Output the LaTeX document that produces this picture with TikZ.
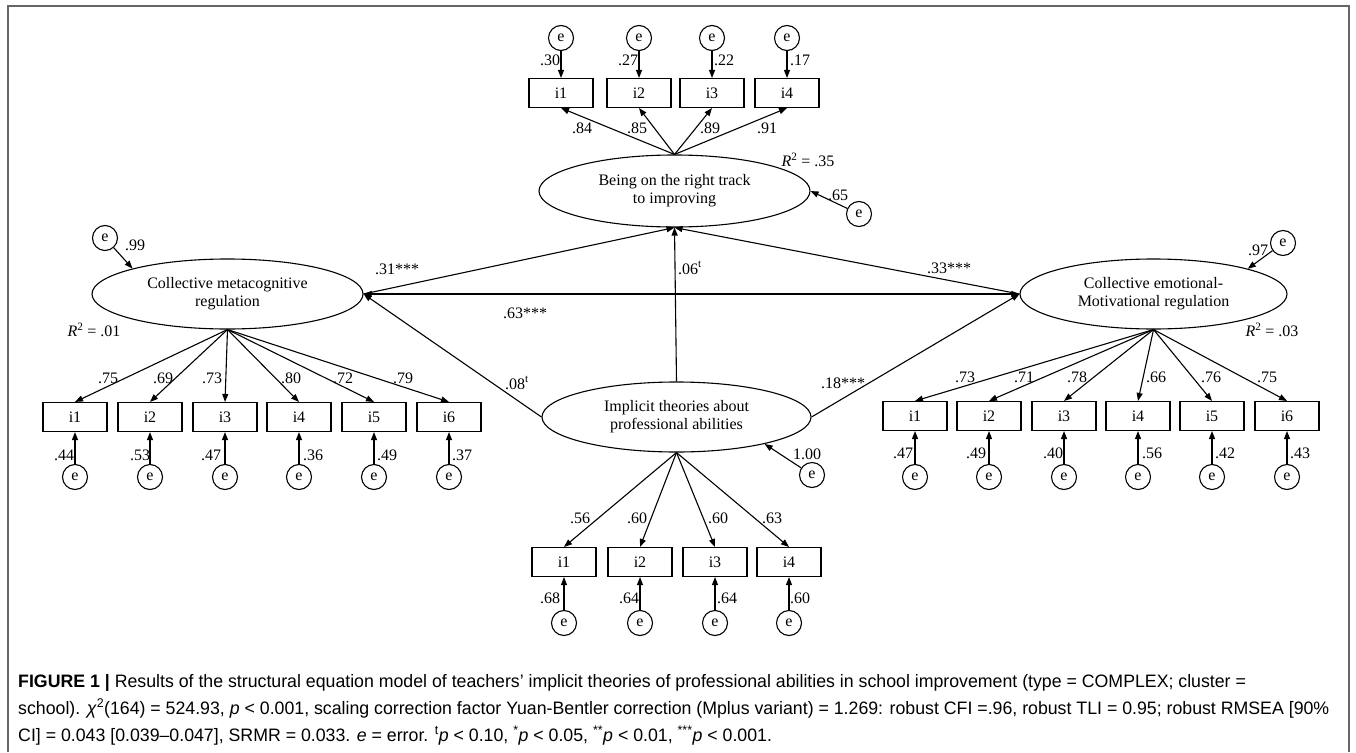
\documentclass[tikz,border=0pt]{standalone}
\usepackage{fontspec}
\setmainfont{Liberation Serif}
\newfontfamily\capfont[FakeStretch=0.985]{Liberation Sans}
\usetikzlibrary{shapes.geometric,arrows.meta}
\begin{document}
\begin{tikzpicture}[x=1pt,y=-1pt,
  every node/.style={font=\fontsize{16}{18}\selectfont},
  lat/.style={ellipse,draw,line width=1.1pt,inner sep=0pt,align=center},
  ind/.style={draw,line width=1.1pt,minimum width=64pt,minimum height=29pt,inner sep=0pt},
  err/.style={circle,draw,line width=1.1pt,minimum size=25pt,inner sep=0pt},
  arr/.style={line width=1.1pt,-{Triangle[length=8pt,width=6pt]}},
  barr/.style={line width=1.1pt,{Triangle[length=8pt,width=6pt]}-{Triangle[length=8pt,width=6pt]}},
  lab/.style={inner sep=0pt},
  capl/.style={anchor=base west,inner sep=0pt,font=\capfont\fontsize{18}{22}\selectfont}
]
\useasboundingbox (0,0) rectangle (1356,752);
\draw[line width=2pt,color=black!60] (8,752) -- (8,6) -- (1349,6) -- (1349,752);

% latent variables
\node[lat,minimum width=271pt,minimum height=72pt] (track) at (674.5,191) {Being on the right track\\to improving};
\node[lat,minimum width=271pt,minimum height=70pt] (meta) at (227.5,294) {Collective metacognitive\\regulation};
\node[lat,minimum width=267pt,minimum height=70pt] (emo) at (1153.5,294) {Collective emotional-\\Motivational regulation};
\node[lat,minimum width=269pt,minimum height=70pt] (impl) at (676.5,417) {Implicit theories about\\professional abilities};

% top indicators
\foreach \n/\x in {1/561,2/639,3/712,4/787}{
  \node[ind] (t\n) at (\x,93) {i\n};
  \node[err] (te\n) at (\x,38) {e};
  \draw[arr] (te\n) -- (t\n);
  \draw[arr] (track.north) -- (t\n.south);
}
% left indicators
\foreach \n/\x in {1/75,2/150,3/225,4/299,5/374,6/449}{
  \node[ind] (l\n) at (\x,417) {i\n};
  \node[err] (le\n) at (\x,477) {e};
  \draw[arr] (le\n) -- (l\n);
  \draw[arr] (meta.south) -- (l\n.north);
}
% right indicators
\foreach \n/\x in {1/915,2/989,3/1064,4/1138,5/1212,6/1287}{
  \node[ind] (r\n) at (\x,416) {i\n};
  \node[err] (re\n) at (\x,477) {e};
  \draw[arr] (re\n) -- (r\n);
  \draw[arr] (emo.south) -- (r\n.north);
}
% bottom indicators
\foreach \n/\x in {1/564,2/640,3/715,4/789}{
  \node[ind] (b\n) at (\x,562) {i\n};
  \node[err] (be\n) at (\x,623) {e};
  \draw[arr] (be\n) -- (b\n);
  \draw[arr] (impl.south) -- (b\n.north);
}

% disturbances
\node[err] (etr) at (859,214) {e};
\draw[arr] (etr) -- (track.east);
\node[err] (emeta) at (105,238) {e};
\draw[arr] (emeta) -- (meta.165);
\node[err] (eemo) at (1283,243) {e};
\draw[arr] (eemo) -- (emo.15);
\node[err] (eimpl) at (812,475) {e};
\draw[arr] (eimpl) -- (impl.-17);

% structural paths
\draw[arr] (meta.east) -- (track.south);
\draw[arr] (emo.west) -- (track.south);
\draw[arr] (impl.north) -- (track.south);
\draw[arr] (impl.west) -- (meta.east);
\draw[arr] (impl.east) -- (emo.west);
\draw[barr] (meta.east) -- (emo.west);

% structural labels
\node[lab] (s31) at (397,269) {.31***};
\node[lab] (s06) at (690,268) {.06\textsuperscript{t}};
\node[lab] (s33) at (949,268) {.33***};
\node[lab] (s63) at (525,313) {.63***};
\node[lab] (s08) at (517,383) {.08\textsuperscript{t}};
\node[lab] (s18) at (843,383) {.18***};

% R2 and disturbance labels
\node[lab] (r35) at (808,160) {\textit{R}\textsuperscript{2} = .35};
\node[lab] (r01) at (94,330) {\textit{R}\textsuperscript{2} = .01};
\node[lab] (r03) at (1272,330) {\textit{R}\textsuperscript{2} = .03};
\node[lab] (d65) at (838,195) {.65};
\node[lab] (d99) at (135,245) {.99};
\node[lab] (d97) at (1258,250) {.97};
\node[lab] (d100) at (807,454) {1.00};

% top labels
\foreach \t/\x in {.30/550,.27/628,.22/724,.17/800}{\node[lab] at (\x,60) {\t};}
\foreach \t/\x in {.84/582,.85/637,.89/710,.91/767}{\node[lab] at (\x,128) {\t};}
% left labels
\foreach \t/\x in {.75/108,.69/163,.73/212,.80/291,.72/343,.79/403}{\node[lab] at (\x,378) {\t};}
\foreach \t/\x in {.44/64,.53/140,.47/211,.36/313,.49/387,.37/462}{\node[lab] at (\x,455) {\t};}
% right labels
\foreach \t/\x in {.73/965,.71/1024,.78/1077,.66/1156,.76/1211,.75/1267}{\node[lab] at (\x,377) {\t};}
\foreach \t/\x in {.47/903,.49/976,.40/1053,.56/1152,.42/1225,.43/1300}{\node[lab] at (\x,453) {\t};}
% bottom labels
\foreach \t/\x in {.56/580,.60/637,.60/718,.63/772}{\node[lab] at (\x,518) {\t};}
\foreach \t/\x in {.68/550,.64/629,.64/727,.60/800}{\node[lab] at (\x,598) {\t};}

% caption
\node[capl] (c1) at (18,687) {{\bfseries FIGURE 1 |} Results of the structural equation model of teachers’ implicit theories of professional abilities in school improvement (type = COMPLEX; cluster =};
\node[capl] (c2) at (18,714) {school). \textit{χ}\textsuperscript{2}(164) = 524.93, \textit{p} < 0.001, scaling correction factor Yuan-Bentler correction (Mplus variant) = 1.269: robust CFI =.96, robust TLI = 0.95; robust RMSEA [90\%};
\node[capl] (c3) at (18,741) {CI] = 0.043 [0.039–0.047], SRMR = 0.033. \textit{e} = error. \textsuperscript{t}\textit{p} < 0.10, \textsuperscript{*}\textit{p} < 0.05, \textsuperscript{**}\textit{p} < 0.01, \textsuperscript{***}\textit{p} < 0.001.};
\end{tikzpicture}
\end{document}
